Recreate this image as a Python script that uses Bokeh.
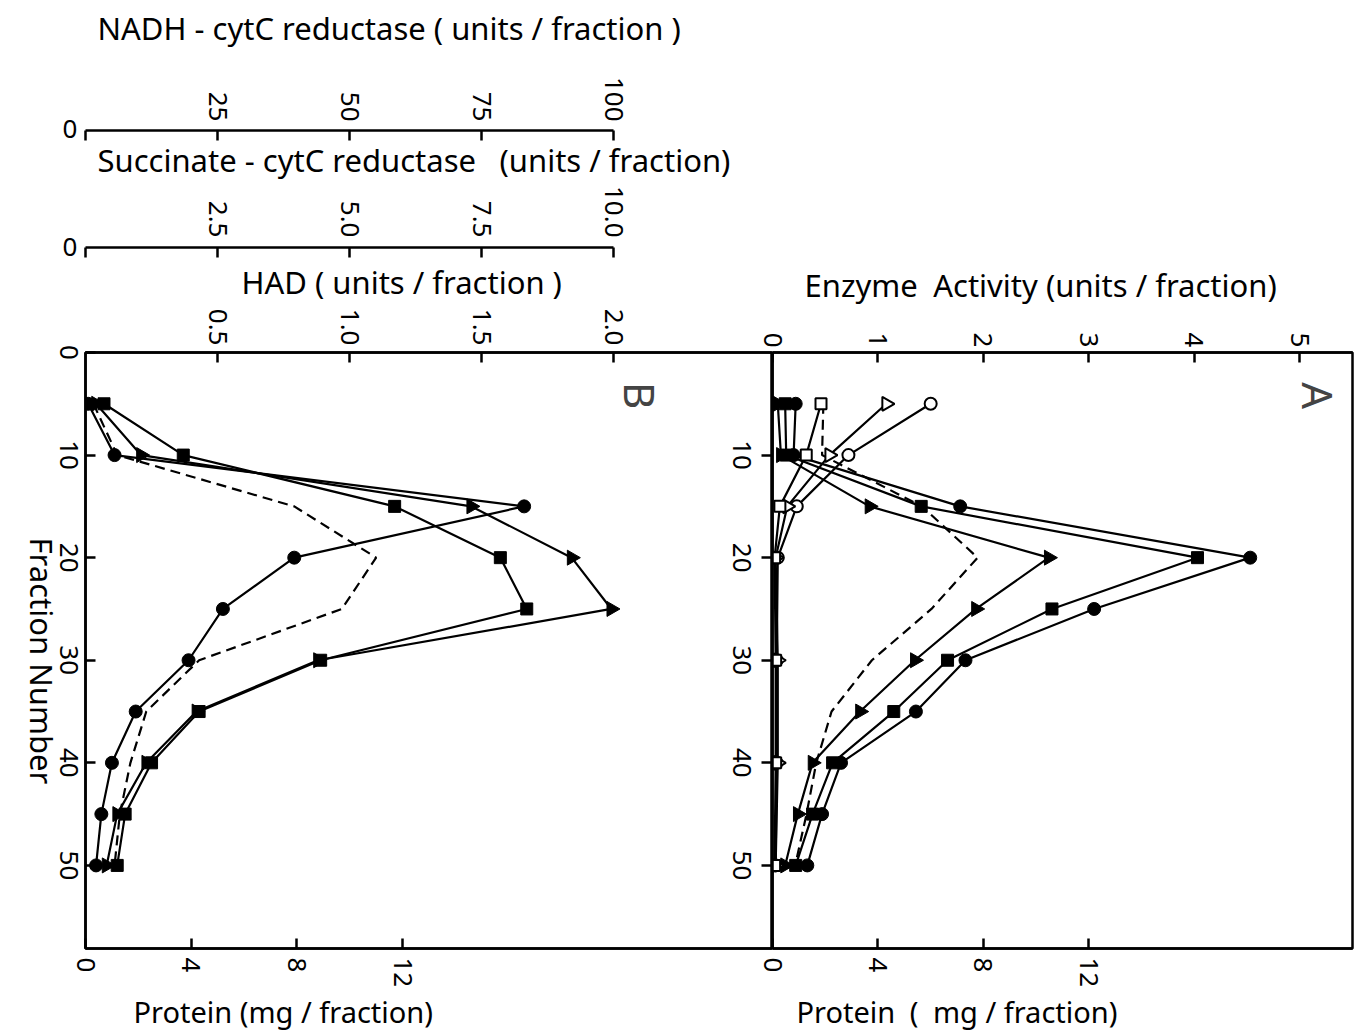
import math

from bokeh.embed import file_html
from bokeh.layouts import row
from bokeh.models import FixedTicker, Label, LinearAxis, Range1d, Title
from bokeh.plotting import figure
from bokeh.resources import INLINE

FONT = "Noto Sans"

# ---------------------------------------------------------------- data
fractions = [5, 10, 15, 20, 25, 30, 35, 40, 45, 50]
open_fractions = [5, 10, 15, 20, 30, 40, 50]

# Panel A: enzyme activity (units / fraction) and protein (mg / fraction)
a_filled_circle = [0.22, 0.20, 1.78, 4.53, 3.05, 1.83, 1.36, 0.65, 0.47, 0.33]
a_filled_square = [0.12, 0.13, 1.41, 4.03, 2.65, 1.66, 1.15, 0.57, 0.38, 0.22]
a_filled_triangle = [0.05, 0.08, 0.92, 2.62, 1.93, 1.35, 0.83, 0.38, 0.24, 0.12]
a_open_circle = [1.50, 0.72, 0.23, 0.05, 0.04, 0.04, 0.03]
a_open_triangle = [1.08, 0.54, 0.14, 0.03, 0.05, 0.05, 0.03]
a_open_square = [0.46, 0.32, 0.07, 0.02, 0.03, 0.03, 0.02]
a_protein = [1.93, 1.88, 5.67, 7.78, 6.03, 3.77, 2.24, 1.66, 1.29, 0.86]

# Panel B: HAD (units / fraction) and protein (mg / fraction)
b_filled_circle = [0.01, 0.11, 1.66, 0.79, 0.52, 0.39, 0.19, 0.10, 0.06, 0.04]
b_filled_square = [0.07, 0.37, 1.17, 1.57, 1.67, 0.89, 0.43, 0.25, 0.15, 0.12]
b_filled_triangle = [0.04, 0.21, 1.46, 1.84, 1.99, 0.88, 0.42, 0.23, 0.12, 0.08]
b_protein = [0.3, 1.2, 7.9, 11.0, 9.7, 4.3, 2.3, 1.7, 1.3, 1.1]

# axis ticks
fraction_ticks_b = [0, 10, 20, 30, 40, 50]
fraction_ticks_a = [10, 20, 30, 40, 50]
had_ticks = [0.5, 1.0, 1.5, 2.0]
succ_ticks = [0, 2.5, 5.0, 7.5, 10.0]
nadh_ticks = [0, 25, 50, 75, 100]
activity_ticks = [0, 1, 2, 3, 4, 5]
protein_ticks = [0, 4, 8, 12]

ROT = -math.pi / 2          # quarter turn clockwise
LW = 2.2
TICK_FONT = "26px"
TITLE_FONT = "31px"
FRAME_TOP = 352
FRAME_BOTTOM = 85
HEIGHT = 1033
FRACTION_RANGE = (58.1, 0)  # fractions increase downwards
EN = "\u2002"               # wide space that survives svg whitespace collapsing


def style_axis(ax, ticks, tick_in=10, tick_out=0, label_standoff=6,
               overrides=None, show_labels=True, show_line=True):
    ax.ticker = FixedTicker(ticks=ticks)
    ax.minor_tick_line_color = None
    ax.major_tick_in = tick_in
    ax.major_tick_out = tick_out
    ax.major_tick_line_width = 2.5
    ax.axis_line_width = 2.5
    if not show_line:
        ax.axis_line_color = None
    if tick_in == 0 and tick_out == 0:
        ax.major_tick_line_color = None
    ax.major_label_text_font = FONT
    ax.major_label_text_color = "black"
    ax.major_label_standoff = label_standoff
    if show_labels:
        ax.major_label_text_font_size = TICK_FONT
        ax.major_label_orientation = ROT
        if overrides:
            ax.major_label_overrides = overrides
    else:
        ax.major_label_text_font_size = "0px"
        ax.major_label_overrides = {t: "" for t in ticks}
        ax.major_label_standoff = 0
    ax.axis_label = None
    return ax


def side_title(text, size=TITLE_FONT, offset=0, standoff=0):
    return Title(text=text, text_font=FONT, text_font_size=size,
                 text_font_style="normal", text_color="black", align="left",
                 offset=offset, standoff=standoff, vertical_align="middle")


def spacer(size):
    return Title(text="\u00a0", text_font=FONT, text_font_size=size,
                 standoff=0, text_font_style="normal", vertical_align="middle")


def base_figure(width, x_range, left, right):
    f = figure(width=width, height=HEIGHT, x_range=x_range,
               y_range=Range1d(*FRACTION_RANGE),
               x_axis_location=None, y_axis_location=None,
               output_backend="svg", toolbar_location=None,
               min_border_left=left, min_border_right=right,
               min_border_top=FRAME_TOP, min_border_bottom=FRAME_BOTTOM)
    f.grid.grid_line_color = None
    f.border_fill_color = None
    f.background_fill_color = None
    f.outline_line_color = None
    return f


# ------------------------------------------- fraction labels left of panel B
f0 = base_figure(105, Range1d(0, 1), left=14, right=86)
f0.add_layout(side_title("Fraction Number", offset=185), "right")
frac_labels_b = style_axis(LinearAxis(), fraction_ticks_b, tick_in=0, tick_out=0,
                           label_standoff=-4, show_line=False)
frac_labels_b.major_label_orientation = "parallel"
f0.add_layout(frac_labels_b, "right")
# zeros at the start of the two reductase scales
f0.add_layout(spacer("69px"), "above")
f0.add_layout(side_title("0", size="26px", offset=48), "above")
f0.add_layout(spacer("70px"), "above")
f0.add_layout(side_title("0", size="26px", offset=48), "above")

# ---------------------------------------------------------------- panel B
pb = base_figure(707, Range1d(0, 2.6), left=20, right=0)
pb.margin = (0, 0, 0, -40)
pb.extra_x_ranges = {
    "protein": Range1d(0, 26.0),
    "succ": Range1d(0, 13.0),
    "nadh": Range1d(0, 130.0),
}
pb.outline_line_color = "black"
pb.outline_line_width = 2.5
pb.background_fill_color = "white"

pb.add_layout(style_axis(LinearAxis(), fraction_ticks_b, show_labels=False), "left")

pb.add_layout(style_axis(LinearAxis(), had_ticks, label_standoff=7,
                         overrides={0.5: "0.5", 1.0: "1.0", 1.5: "1.5", 2.0: "2.0"}),
              "above")
pb.add_layout(side_title("HAD ( units / fraction )", offset=156, standoff=4), "above")
pb.add_layout(spacer("6px"), "above")
pb.add_layout(style_axis(LinearAxis(x_range_name="succ", bounds=(0, 10)), succ_ticks,
                         label_standoff=10,
                         overrides={0: "", 2.5: "2.5", 5.0: "5.0", 7.5: "7.5",
                                    10.0: "10.0"}),
              "above")
pb.add_layout(side_title("Succinate - cytC reductase " + EN + "(units / fraction)",
                         offset=12, standoff=2), "above")
pb.add_layout(spacer("3px"), "above")
pb.add_layout(style_axis(LinearAxis(x_range_name="nadh", bounds=(0, 100)), nadh_ticks,
                         label_standoff=9, overrides={0: ""}),
              "above")
pb.add_layout(spacer("16px"), "above")
pb.add_layout(side_title("NADH - cytC reductase ( units / fraction )", offset=12),
              "above")

pb.add_layout(style_axis(LinearAxis(x_range_name="protein"), protein_ticks,
                         label_standoff=9), "below")
pb.add_layout(side_title("Protein (mg / fraction)", size="29px", offset=48), "below")

pb.add_layout(Label(x=2.10, y=4.2, text="B", angle=ROT, text_align="center",
                    text_baseline="middle", text_font=FONT, text_font_size="42px"))

pb.line(b_protein, fractions, x_range_name="protein", line_width=LW,
        line_dash="10 6", color="black")
for vals, marker, size in ((b_filled_circle, "circle", 13),
                           (b_filled_square, "square", 12),
                           (b_filled_triangle, "triangle", 15)):
    pb.line(vals, fractions, line_width=LW, color="black")
    pb.scatter(vals, fractions, marker=marker, size=size,
               angle=ROT if marker == "triangle" else 0,
               fill_color="black", line_color="black")

# ------------------------------------------- fraction labels left of panel A
f1 = base_figure(70, Range1d(0, 1), left=0, right=60)
f1.margin = (0, 0, 0, -50)
frac_labels_a = style_axis(LinearAxis(), fraction_ticks_a, tick_in=0, tick_out=0,
                           label_standoff=0, show_line=False)
frac_labels_a.major_label_orientation = "parallel"
f1.add_layout(frac_labels_a, "right")

# ---------------------------------------------------------------- panel A
pa = base_figure(606, Range1d(0, 5.5), left=20, right=6)
pa.margin = (0, 0, 0, -40)
pa.extra_x_ranges = {"protein": Range1d(0, 22.0)}
pa.outline_line_color = "black"
pa.outline_line_width = 2.5
pa.background_fill_color = "white"

pa.add_layout(style_axis(LinearAxis(), fraction_ticks_a, tick_in=0, tick_out=11,
                         show_labels=False), "left")
pa.add_layout(style_axis(LinearAxis(), activity_ticks, label_standoff=5), "above")
pa.add_layout(side_title("Enzyme" + EN + "Activity (units / fraction)", offset=32,
                         standoff=46), "above")
pa.add_layout(style_axis(LinearAxis(x_range_name="protein"), protein_ticks,
                         label_standoff=9), "below")
pa.add_layout(side_title("Protein" + EN + "(" + EN + "mg / fraction)", size="29px",
                         offset=24), "below")

pa.add_layout(Label(x=5.18, y=4.2, text="A", angle=ROT, text_align="center",
                    text_baseline="middle", text_font=FONT, text_font_size="42px"))

pa.line(a_protein, fractions, x_range_name="protein", line_width=LW,
        line_dash="10 6", color="black")
for vals, marker, size in ((a_filled_circle, "circle", 13),
                           (a_filled_square, "square", 12),
                           (a_filled_triangle, "triangle", 15)):
    pa.line(vals, fractions, line_width=LW, color="black")
    pa.scatter(vals, fractions, marker=marker, size=size,
               angle=ROT if marker == "triangle" else 0,
               fill_color="black", line_color="black")
for vals, marker, size in ((a_open_circle, "circle", 12),
                           (a_open_triangle, "triangle", 14),
                           (a_open_square, "square", 11)):
    pa.line(vals, open_fractions, line_width=LW, color="black")
    pa.scatter(vals, open_fractions, marker=marker, size=size,
               angle=ROT if marker == "triangle" else 0,
               fill_color="white", line_color="black", line_width=2)

layout = row(f0, pb, f1, pa)

with open("out.html", "w") as f:
    f.write(file_html(layout, INLINE))
